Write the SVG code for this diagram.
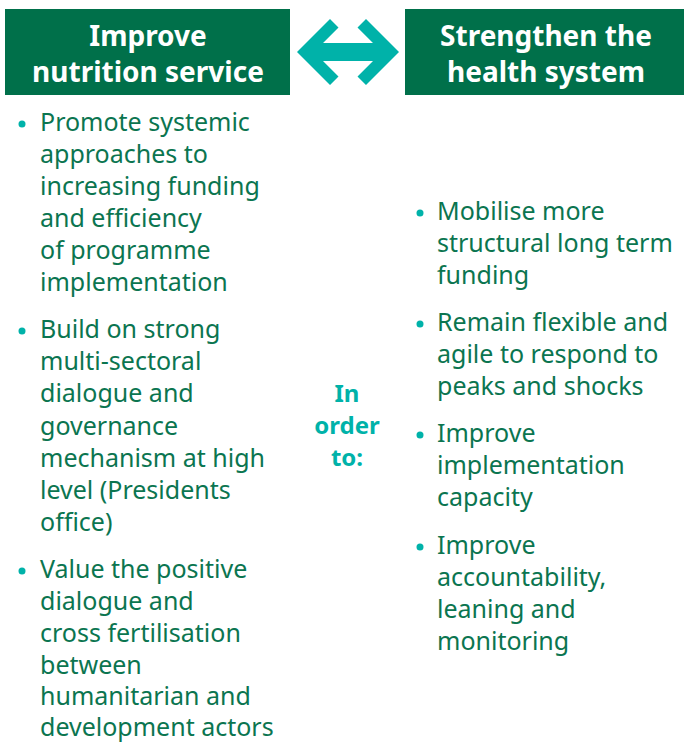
<svg xmlns="http://www.w3.org/2000/svg" width="684" height="742" viewBox="0 0 684 742">
  <style>
    .hdr { fill: #00704A; }
    .hdrtxt { font-family: "Noto Sans", "Liberation Sans", sans-serif; font-weight: bold; font-size: 28px; fill: #ffffff; text-anchor: middle; }
    .body { font-family: "Noto Sans", "Liberation Sans", sans-serif; font-size: 25px; fill: #0B7550; }
    .dot { fill: #00B2A9; }
    .mid { font-family: "Noto Sans", "Liberation Sans", sans-serif; font-weight: bold; font-size: 24px; fill: #00B2A9; text-anchor: middle; }
  </style>
  <rect width="684" height="742" fill="#ffffff"/>

  <g id="node-left-header">
    <rect class="hdr" x="5" y="9" width="285" height="86"/>
    <text class="hdrtxt" x="148" y="46">Improve</text>
    <text class="hdrtxt" x="148" y="82">nutrition service</text>
  </g>

  <g id="node-right-header">
    <rect class="hdr" x="405" y="9" width="279" height="86"/>
    <text class="hdrtxt" x="546" y="46">Strengthen the</text>
    <text class="hdrtxt" x="546" y="82">health system</text>
  </g>

  <g id="connectors">
    <polygon fill="#00B2A9" points="297,52 330,19 338.5,27.5 323,43 373,43 357.5,27.5 366,19 399,52 366,85 357.5,76.5 373,61 323,61 338.5,76.5 330,85"/>
  </g>

  <g id="node-left-list">
    <circle class="dot" cx="22" cy="124" r="3.5"/>
    <text class="body" x="40" y="131">Promote systemic</text>
    <text class="body" x="40" y="163">approaches to</text>
    <text class="body" x="40" y="195">increasing funding</text>
    <text class="body" x="40" y="227">and efficiency</text>
    <text class="body" x="40" y="259">of programme</text>
    <text class="body" x="40" y="291">implementation</text>

    <circle class="dot" cx="22" cy="331" r="3.5"/>
    <text class="body" x="40" y="338">Build on strong</text>
    <text class="body" x="40" y="370">multi-sectoral</text>
    <text class="body" x="40" y="402">dialogue and</text>
    <text class="body" x="40" y="435">governance</text>
    <text class="body" x="40" y="467">mechanism at high</text>
    <text class="body" x="40" y="499">level (Presidents</text>
    <text class="body" x="40" y="531">office)</text>

    <circle class="dot" cx="22" cy="571" r="3.5"/>
    <text class="body" x="40" y="578">Value the positive</text>
    <text class="body" x="40" y="610">dialogue and</text>
    <text class="body" x="40" y="642">cross fertilisation</text>
    <text class="body" x="40" y="674">between</text>
    <text class="body" x="40" y="705">humanitarian and</text>
    <text class="body" x="40" y="736">development actors</text>
  </g>

  <g id="node-in-order-to">
    <text class="mid" x="347" y="402">In</text>
    <text class="mid" x="347" y="434">order</text>
    <text class="mid" x="347" y="466">to:</text>
  </g>

  <g id="node-right-list">
    <circle class="dot" cx="420" cy="213" r="3.5"/>
    <text class="body" x="437" y="220">Mobilise more</text>
    <text class="body" x="437" y="252">structural long term</text>
    <text class="body" x="437" y="284">funding</text>

    <circle class="dot" cx="420" cy="324" r="3.5"/>
    <text class="body" x="437" y="331">Remain flexible and</text>
    <text class="body" x="437" y="363">agile to respond to</text>
    <text class="body" x="437" y="395">peaks and shocks</text>

    <circle class="dot" cx="420" cy="435" r="3.5"/>
    <text class="body" x="437" y="442">Improve</text>
    <text class="body" x="437" y="474">implementation</text>
    <text class="body" x="437" y="506">capacity</text>

    <circle class="dot" cx="420" cy="547" r="3.5"/>
    <text class="body" x="437" y="554">Improve</text>
    <text class="body" x="437" y="586">accountability,</text>
    <text class="body" x="437" y="618">leaning and</text>
    <text class="body" x="437" y="650">monitoring</text>
  </g>
</svg>
